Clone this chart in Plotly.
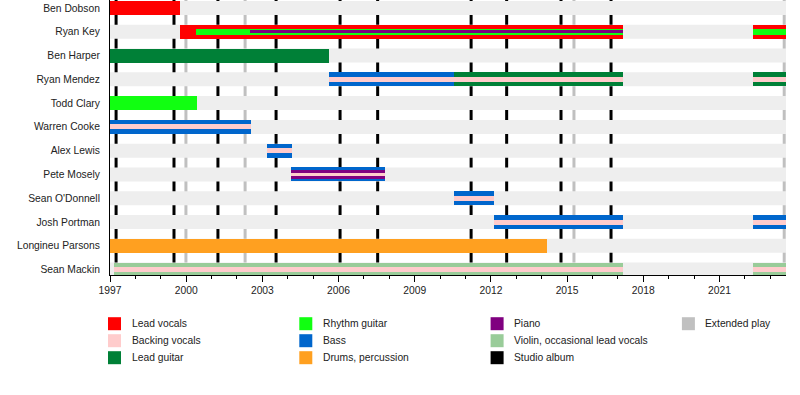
import plotly.graph_objects as go

# ---------------- data ----------------
MEMBERS = ["Ben Dobson", "Ryan Key", "Ben Harper", "Ryan Mendez", "Todd Clary",
           "Warren Cooke", "Alex Lewis", "Pete Mosely", "Sean O'Donnell",
           "Josh Portman", "Longineu Parsons", "Sean Mackin"]

ROLE_NAMES = ["Lead vocals", "Backing vocals", "Lead guitar", "Rhythm guitar",
              "Bass", "Drums, percussion", "Piano", "Violin, occasional lead vocals"]
RELEASE_NAMES = ["Studio album", "Extended play"]

START = 1997.0
END = 2023.62

# (member, role, start, end, layer)  layer 0 = outer bar, 1/2 = inner stripes
SPANS = [
    ("Ben Dobson", "Lead vocals", 1997.0, 1999.74, 0),
    ("Ryan Key", "Lead vocals", 1999.74, 2017.2, 0),
    ("Ryan Key", "Lead vocals", 2022.32, END, 0),
    ("Ryan Key", "Rhythm guitar", 2000.39, 2017.2, 1),
    ("Ryan Key", "Rhythm guitar", 2022.32, END, 1),
    ("Ryan Key", "Piano", 2002.53, 2017.2, 2),
    ("Ben Harper", "Lead guitar", 1997.0, 2005.61, 0),
    ("Ryan Mendez", "Bass", 2005.61, 2010.55, 0),
    ("Ryan Mendez", "Lead guitar", 2010.55, 2017.2, 0),
    ("Ryan Mendez", "Lead guitar", 2022.32, END, 0),
    ("Ryan Mendez", "Backing vocals", 2005.61, 2017.2, 1),
    ("Ryan Mendez", "Backing vocals", 2022.32, END, 1),
    ("Todd Clary", "Rhythm guitar", 1997.0, 2000.43, 0),
    ("Warren Cooke", "Bass", 1997.0, 2002.55, 0),
    ("Warren Cooke", "Backing vocals", 1997.0, 2002.55, 1),
    ("Alex Lewis", "Bass", 2003.18, 2004.17, 0),
    ("Alex Lewis", "Backing vocals", 2003.18, 2004.17, 1),
    ("Pete Mosely", "Bass", 2004.13, 2007.83, 0),
    ("Pete Mosely", "Piano", 2004.13, 2007.83, 1),
    ("Pete Mosely", "Backing vocals", 2004.13, 2007.83, 2),
    ("Sean O'Donnell", "Bass", 2010.55, 2012.12, 0),
    ("Sean O'Donnell", "Backing vocals", 2010.55, 2012.12, 1),
    ("Josh Portman", "Bass", 2012.12, 2017.2, 0),
    ("Josh Portman", "Bass", 2022.32, END, 0),
    ("Josh Portman", "Backing vocals", 2012.12, 2017.2, 1),
    ("Josh Portman", "Backing vocals", 2022.32, END, 1),
    ("Longineu Parsons", "Drums, percussion", 1997.0, 2014.2, 0),
    ("Sean Mackin", "Violin, occasional lead vocals", 1997.16, 2017.2, 0),
    ("Sean Mackin", "Violin, occasional lead vocals", 2022.32, END, 0),
    ("Sean Mackin", "Backing vocals", 1997.16, 2017.2, 1),
    ("Sean Mackin", "Backing vocals", 2022.32, END, 1),
]

STUDIO_ALBUMS = [1997.24, 1999.52, 2001.25, 2003.54, 2006.06, 2007.54,
                 2011.22, 2012.62, 2014.76, 2016.73]
EXTENDED_PLAYS = [1999.99, 2002.32, 2015.27, 2023.55]

# ---------------- styles ----------------
COLORS = {
    "Lead vocals": "#FF0000",
    "Backing vocals": "#FFCCCC",
    "Lead guitar": "#008037",
    "Rhythm guitar": "#11FF11",
    "Bass": "#0066CC",
    "Drums, percussion": "#FFA020",
    "Piano": "#800080",
    "Violin, occasional lead vocals": "#99CC99",
    "Studio album": "#000000",
    "Extended play": "#C0C0C0",
}
BAND_COLOR = "#EEEEEE"
LAYER_PX = {0: 14, 1: 5, 2: 3.5}
PX_OVERRIDE = {("Ryan Key", "Rhythm guitar"): 6, ("Ryan Key", "Piano"): 3.2,
               ("Pete Mosely", "Piano"): 9.5}

FONT = "Liberation Sans, Arial, sans-serif"
FS = 10.3
TXT = "#222222"

W, H = 800, 395
ML, MR, MT, MB = 110, 14, 0, 120
PW, PH = W - ML - MR, H - MT - MB
Y_RANGE = [11.228, -0.336]
PPR = PH / (Y_RANGE[0] - Y_RANGE[1])  # pixels per row

row_of = {m: i for i, m in enumerate(MEMBERS)}

fig = go.Figure()

# member bars, outer layers first
groups = {}
for member, role, s, e, layer in SPANS:
    groups.setdefault((layer, role), []).append((member, s, e))
for (layer, role) in sorted(groups, key=lambda k: k[0]):
    items = groups[(layer, role)]
    fig.add_trace(go.Bar(
        orientation="h",
        y=[row_of[m] for m, s, e in items],
        base=[s for m, s, e in items],
        x=[e - s for m, s, e in items],
        width=[PX_OVERRIDE.get((m, role), LAYER_PX[layer]) / PPR for m, s, e in items],
        marker=dict(color=COLORS[role], line=dict(width=0)),
        name=role, showlegend=False,
        customdata=[[m, s, e] for m, s, e in items],
        hovertemplate="%{customdata[0]}<br>" + role + ": %{customdata[1]:.1f}–%{customdata[2]:.1f}<extra></extra>",
    ))

shapes = []
band_h = LAYER_PX[0] / PPR
for i, _ in enumerate(MEMBERS):
    shapes.append(dict(type="rect", xref="x", yref="y", x0=START, x1=END,
                       y0=i - band_h / 2, y1=i + band_h / 2,
                       fillcolor=BAND_COLOR, line=dict(width=0), layer="below"))
for name, dates in (("Extended play", EXTENDED_PLAYS), ("Studio album", STUDIO_ALBUMS)):
    for d in dates:
        shapes.append(dict(type="line", xref="x", yref="paper", x0=d, x1=d, y0=0, y1=1,
                           line=dict(color=COLORS[name], width=3), layer="below"))

# manual legend (column-major, 3 rows)
annotations = []
LEG_ITEMS = ROLE_NAMES + RELEASE_NAMES
def px2x(px):
    return (px - ML) / PW
def py2y(py):
    return (MT + PH - py) / PH
for i, name in enumerate(LEG_ITEMS):
    col, row = i // 3, i % 3
    x0 = 108 + 191.3 * col
    cy = 323.7 + 17 * row
    shapes.append(dict(type="rect", xref="paper", yref="paper",
                       x0=px2x(x0), x1=px2x(x0 + 13), y0=py2y(cy + 6.5), y1=py2y(cy - 6.5),
                       fillcolor=COLORS[name], line=dict(width=0)))
    annotations.append(dict(xref="paper", yref="paper", x=px2x(x0 + 21.5), y=py2y(cy),
                            xanchor="left", yanchor="middle", showarrow=False, text=name,
                            font=dict(family=FONT, size=FS, color=TXT)))

fig.update_layout(
    width=W, height=H,
    margin=dict(l=ML, r=MR, t=MT, b=MB, pad=0),
    paper_bgcolor="white", plot_bgcolor="white",
    barmode="overlay", bargap=0,
    showlegend=False,
    shapes=shapes, annotations=annotations,
    font=dict(family=FONT, size=FS, color=TXT),
    xaxis=dict(range=[START, END], tickmode="linear", tick0=1997, dtick=3,
               ticks="outside", ticklen=6, tickwidth=1, tickcolor="black",
               minor=dict(tickmode="linear", tick0=1997, dtick=1, ticks="outside",
                          ticklen=3, tickwidth=1, tickcolor="black"),
               showline=True, linecolor="black", linewidth=1,
               showgrid=False, zeroline=False,
               tickfont=dict(family=FONT, size=FS, color=TXT)),
    yaxis=dict(range=Y_RANGE, tickmode="array", tickvals=list(range(len(MEMBERS))),
               ticktext=MEMBERS, ticks="", showline=True, linecolor="black", linewidth=1,
               showgrid=False, zeroline=False, ticklabelstandoff=7,
               tickfont=dict(family=FONT, size=FS, color=TXT)),
)

fig.write_html("out.html", config={"displayModeBar": False},
               post_script="document.body.style.margin='0px';")
